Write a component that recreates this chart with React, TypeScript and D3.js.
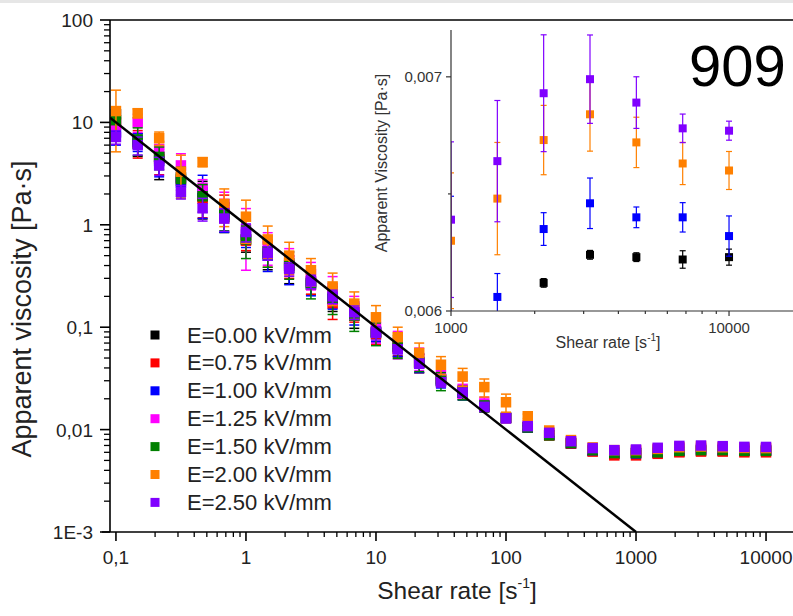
import React from 'react';
import * as d3 from 'd3';

// shear rates [1/s], 6 points per decade
const shearRates = [0.1, 0.147, 0.215, 0.316, 0.464, 0.681, 1, 1.47, 2.15, 3.16, 4.64, 6.81, 10, 14.7, 21.5, 31.6, 46.4, 68.1, 100, 147, 215, 316, 464, 681, 1000, 1468, 2154, 3162, 4642, 6813, 10000];

const fieldLabels = ['E=0.00 kV/mm', 'E=0.75 kV/mm', 'E=1.00 kV/mm', 'E=1.25 kV/mm', 'E=1.50 kV/mm', 'E=2.00 kV/mm', 'E=2.50 kV/mm'];
const fieldColors = ['#000000', '#ff0000', '#0000ff', '#ff00ff', '#008000', '#ff8000', '#8000ff'];

// apparent viscosity [Pa·s]
const eta000 = [12, 6.2, 4.6, 2.9, 1.9, 1.2, 0.72, 0.52, 0.38, 0.26, 0.19, 0.13, 0.09, 0.064, 0.045, 0.031, 0.023, 0.017, 0.013, 0.0105, 0.0088, 0.0073, 0.0062, 0.0058, 0.0059, 0.00595, 0.00612, 0.00624, 0.00623, 0.00622, 0.00623];
const eta075 = [10, 6.4, 4.4, 2.7, 1.8, 1.5, 0.7, 0.55, 0.4, 0.28, 0.17, 0.14, 0.085, 0.062, 0.045, 0.031, 0.023, 0.017, 0.013, 0.0105, 0.0088, 0.0073, 0.0061, 0.0056, 0.0056, 0.0058, 0.006, 0.0061, 0.0061, 0.006, 0.006];
const eta100 = [8.0, 6.5, 4.2, 2.6, 2.1, 1.3, 0.8, 0.5, 0.4, 0.27, 0.2, 0.14, 0.09, 0.065, 0.045, 0.03, 0.023, 0.017, 0.013, 0.0105, 0.0089, 0.0074, 0.0063, 0.006, 0.0059, 0.00606, 0.00635, 0.00646, 0.0064, 0.0064, 0.00632];
const eta125 = [9.5, 10.0, 5.5, 3.8, 2.3, 1.6, 0.9, 0.62, 0.45, 0.33, 0.24, 0.16, 0.1, 0.07, 0.05, 0.034, 0.025, 0.018, 0.013, 0.011, 0.0093, 0.0076, 0.0065, 0.0062, 0.0062, 0.0064, 0.0066, 0.0066, 0.0066, 0.0065, 0.0065];
const eta150 = [10.5, 6.8, 4.6, 2.8, 1.9, 1.25, 0.72, 0.55, 0.42, 0.27, 0.19, 0.13, 0.088, 0.066, 0.046, 0.03, 0.023, 0.017, 0.013, 0.0105, 0.0088, 0.0074, 0.0063, 0.0059, 0.0059, 0.006, 0.0062, 0.0063, 0.0063, 0.0062, 0.0062];
const eta200 = [12.9, 12.3, 7.0, 3.3, 4.1, 1.6, 1.2, 0.72, 0.5, 0.36, 0.25, 0.17, 0.125, 0.08, 0.056, 0.043, 0.033, 0.026, 0.0185, 0.0135, 0.0098, 0.0079, 0.0067, 0.0063, 0.0063, 0.00648, 0.00673, 0.00684, 0.00672, 0.00663, 0.0066];
const eta250 = [7.2, 6.0, 3.8, 2.1, 1.45, 1.15, 0.85, 0.53, 0.37, 0.28, 0.2, 0.14, 0.088, 0.061, 0.044, 0.029, 0.023, 0.0167, 0.0129, 0.0108, 0.0093, 0.0077, 0.0066, 0.0063, 0.00639, 0.00664, 0.00693, 0.00699, 0.00689, 0.00678, 0.00677];

// error bars, relative to the value
const err000 = [0.15, 0.25, 0.4, 0.25, 0.4, 0.3, 0.25, 0.3, 0.3, 0.2, 0.25, 0.25, 0.2, 0.2, 0.2, 0.15, 0.15, 0.12, 0.08, 0.04, 0.03, 0.03, 0.03, 0.03, 0.005, 0.005, 0.003, 0.003, 0.003, 0.006, 0.0055];
const err075 = [0.3, 0.3, 0.3, 0.3, 0.35, 0.3, 0.2, 0.3, 0.25, 0.25, 0.3, 0.2, 0.2, 0.15, 0.2, 0.15, 0.12, 0.12, 0.08, 0.04, 0.03, 0.03, 0.02, 0.02, 0.02, 0.02, 0.02, 0.02, 0.02, 0.02, 0.02];
const err100 = [0.25, 0.2, 0.3, 0.3, 0.45, 0.35, 0.25, 0.3, 0.35, 0.25, 0.25, 0.25, 0.2, 0.2, 0.2, 0.15, 0.15, 0.12, 0.08, 0.04, 0.03, 0.03, 0.03, 0.03, 0.1, 0.0165, 0.011, 0.0167, 0.0069, 0.0098, 0.0136];
const err125 = [0.3, 0.2, 0.2, 0.3, 0.2, 0.3, 0.6, 0.35, 0.3, 0.3, 0.3, 0.25, 0.3, 0.3, 0.25, 0.2, 0.2, 0.15, 0.1, 0.04, 0.03, 0.03, 0.03, 0.03, 0.03, 0.02, 0.02, 0.02, 0.02, 0.02, 0.02];
const err150 = [0.25, 0.3, 0.25, 0.3, 0.3, 0.3, 0.35, 0.3, 0.3, 0.3, 0.3, 0.3, 0.25, 0.25, 0.2, 0.2, 0.15, 0.12, 0.08, 0.04, 0.03, 0.03, 0.02, 0.02, 0.02, 0.02, 0.02, 0.02, 0.02, 0.02, 0.02];
const err200 = [0.6, 0.1, 0.15, 0.45, 0.1, 0.4, 0.45, 0.35, 0.35, 0.3, 0.35, 0.3, 0.3, 0.25, 0.25, 0.2, 0.2, 0.2, 0.2, 0.05, 0.04, 0.03, 0.03, 0.03, 0.046, 0.037, 0.022, 0.023, 0.016, 0.0136, 0.0123];
const err250 = [0.15, 0.2, 0.2, 0.15, 0.25, 0.25, 0.2, 0.15, 0.15, 0.15, 0.15, 0.15, 0.15, 0.1, 0.1, 0.1, 0.08, 0.08, 0.05, 0.04, 0.04, 0.03, 0.03, 0.03, 0.052, 0.039, 0.036, 0.027, 0.016, 0.009, 0.006];

const etaSeries = [eta000, eta075, eta100, eta125, eta150, eta200, eta250];
const errSeries = [err000, err075, err100, err125, err150, err200, err250];

// inset shows only these fields, for the high shear range
const insetFields = [0, 2, 5, 6];

// power-law fit eta = K * rate^n
const fitK = 1;
const fitN = -1;
const fitRange = [0.09, 1000];

const xTickValues = [0.1, 1, 10, 100, 1000, 10000];
const xTickLabels = ['0,1', '1', '10', '100', '1000', '10000'];
const yTickValues = [0.001, 0.01, 0.1, 1, 10, 100];
const yTickLabels = ['1E-3', '0,01', '0,1', '1', '10', '100'];

const insetXTickValues = [1000, 10000];
const insetXTickLabels = ['1000', '10000'];
const insetYTickValues = [0.006, 0.007];
const insetYTickLabels = ['0,006', '0,007'];

const FONT = "'Liberation Sans', Arial, sans-serif";

function minorLogTicks(lo: number, hi: number) {
  const out: number[] = [];
  for (let e = Math.floor(Math.log10(lo)); e <= Math.ceil(Math.log10(hi)); e++) {
    for (let m = 2; m <= 9; m++) {
      const v = m * Math.pow(10, e);
      if (v >= lo && v <= hi) out.push(v);
    }
  }
  return out;
}

export default function App() {
  const W = 793, H = 616;
  const left = 110, top = 20, bottom = 532, right = 800;

  const x = d3.scaleLog().domain([0.09, 18250]).range([left, right]);
  const y = d3.scaleLog().domain([0.001, 100]).range([bottom, top]);

  const iLeft = 451, iTop = 30, iBottom = 311, iRight = 800;
  const ix = d3.scaleLog().domain([1000, 18000]).range([iLeft, iRight]);
  const iy = d3.scaleLinear().domain([0.006, 0.0072]).range([iBottom, iTop]);

  const fitLine = d3.line<number>()
    .x(r => x(r))
    .y(r => y(fitK * Math.pow(r, fitN)));

  const sq = 10.5, cap = 10;
  const isq = 8, icap = 6;

  return (
    <svg width={W} height={H} style={{ position: 'absolute', left: 0, top: 0, background: '#fff' }} fontFamily={FONT}>
      <defs>
        <clipPath id="mainClip"><rect x={left} y={top} width={right - left} height={bottom - top} /></clipPath>
        <clipPath id="insetClip"><rect x={iLeft} y={0} width={iRight - iLeft} height={iBottom} /></clipPath>
      </defs>
      <rect x={0} y={0} width={W} height={3} fill="#e6e6e6" />

      {/* main data */}
      <g clipPath="url(#mainClip)">
        {etaSeries.map((vals, s) => (
          <g key={s} stroke={fieldColors[s]} fill={fieldColors[s]}>
            {vals.map((v, i) => {
              const e = v * errSeries[s][i];
              const cx = x(shearRates[i]);
              const y1 = y(v + e), y0 = y(Math.max(v - e, 1e-4));
              return (
                <g key={i}>
                  <line x1={cx} x2={cx} y1={y1} y2={y0} strokeWidth={1.5} />
                  <line x1={cx - cap / 2} x2={cx + cap / 2} y1={y1} y2={y1} strokeWidth={1.5} />
                  <line x1={cx - cap / 2} x2={cx + cap / 2} y1={y0} y2={y0} strokeWidth={1.5} />
                  <rect x={cx - sq / 2} y={y(v) - sq / 2} width={sq} height={sq} stroke="none" />
                </g>
              );
            })}
          </g>
        ))}
        <path d={fitLine(fitRange) || ''} stroke="#000" strokeWidth={2.5} fill="none" />
      </g>

      {/* main axes */}
      <g stroke="#000" strokeWidth={1.6} fill="none">
        <line x1={left} x2={right} y1={top} y2={top} />
        <line x1={left} x2={left} y1={top} y2={bottom} />
        <line x1={left - 8} x2={right} y1={bottom} y2={bottom} />
        {xTickValues.map(v => <line key={v} x1={x(v)} x2={x(v)} y1={bottom} y2={bottom + 9} />)}
        {minorLogTicks(0.1, 18000).map(v => <line key={v} x1={x(v)} x2={x(v)} y1={bottom} y2={bottom + 5} strokeWidth={1.3} />)}
        {yTickValues.map(v => <line key={v} x1={left - 10} x2={left} y1={y(v)} y2={y(v)} />)}
        {minorLogTicks(0.001, 100).map(v => <line key={v} x1={left - 6} x2={left} y1={y(v)} y2={y(v)} strokeWidth={1.3} />)}
      </g>
      <g fontSize={19} fill="#222">
        {xTickValues.map((v, i) => (
          <text key={v} x={x(v)} y={564} textAnchor="middle">{xTickLabels[i]}</text>
        ))}
        {yTickValues.map((v, i) => (
          <text key={v} x={93} y={y(v) + 7} textAnchor="end">{yTickLabels[i]}</text>
        ))}
      </g>
      <text x={457} y={599} textAnchor="middle" fontSize={24.5} fill="#222">
        Shear rate [s<tspan fontSize={14} dy={-11}>-1</tspan><tspan dy={11}>]</tspan>
      </text>
      <text transform="translate(31,309) rotate(-90)" textAnchor="middle" fontSize={27} fill="#222">
        Apparent viscosity [Pa·s]
      </text>

      {/* legend */}
      <g>
        {fieldLabels.map((lab, i) => (
          <g key={lab} transform={`translate(0,${335 + i * 27.9})`}>
            <rect x={150.5} y={-4.5} width={9} height={9} fill={fieldColors[i]} />
            <text x={187} y={7.5} fontSize={22} fill="#222">{lab}</text>
          </g>
        ))}
      </g>

      {/* inset */}
      <g clipPath="url(#insetClip)">
        {insetFields.map(s => (
          <g key={s} stroke={fieldColors[s]} fill={fieldColors[s]}>
            {shearRates.map((r, i) => {
              if (r < 1000) return null;
              const v = etaSeries[s][i];
              const e = v * errSeries[s][i];
              const cx = ix(r);
              const y1 = iy(v + e), y0 = iy(v - e);
              return (
                <g key={i}>
                  <line x1={cx} x2={cx} y1={y1} y2={y0} strokeWidth={1.2} />
                  <line x1={cx - icap / 2} x2={cx + icap / 2} y1={y1} y2={y1} strokeWidth={1.2} />
                  <line x1={cx - icap / 2} x2={cx + icap / 2} y1={y0} y2={y0} strokeWidth={1.2} />
                  <rect x={cx - isq / 2} y={iy(v) - isq / 2} width={isq} height={isq} stroke="none" />
                </g>
              );
            })}
          </g>
        ))}
      </g>
      <g stroke="#333" strokeWidth={1.2} fill="none">
        <line x1={iLeft} x2={iLeft} y1={iTop} y2={iBottom} />
        <line x1={iLeft} x2={iRight} y1={iBottom} y2={iBottom} />
        {insetXTickValues.map(v => <line key={v} x1={ix(v)} x2={ix(v)} y1={iBottom} y2={iBottom + 5} />)}
        {minorLogTicks(1000, 18000).map(v => <line key={v} x1={ix(v)} x2={ix(v)} y1={iBottom} y2={iBottom + 3} />)}
        {insetYTickValues.map(v => <line key={v} x1={iLeft - 5} x2={iLeft} y1={iy(v)} y2={iy(v)} />)}
        <line x1={iLeft - 3} x2={iLeft} y1={iy(0.0065)} y2={iy(0.0065)} />
      </g>
      <g fontSize={15} fill="#333">
        {insetXTickValues.map((v, i) => (
          <text key={v} x={ix(v)} y={333} textAnchor="middle">{insetXTickLabels[i]}</text>
        ))}
        {insetYTickValues.map((v, i) => (
          <text key={v} x={442} y={iy(v) + 5} textAnchor="end">{insetYTickLabels[i]}</text>
        ))}
      </g>
      <text x={608} y={348} textAnchor="middle" fontSize={16} fill="#333">
        Shear rate [s<tspan fontSize={10} dy={-7}>-1</tspan><tspan dy={7}>]</tspan>
      </text>
      <text transform="translate(387,163) rotate(-90)" textAnchor="middle" fontSize={16} fill="#333">
        Apparent Viscosity [Pa·s]
      </text>
      <text x={689} y={86} fontSize={58} fill="#000">909</text>
    </svg>
  );
}
